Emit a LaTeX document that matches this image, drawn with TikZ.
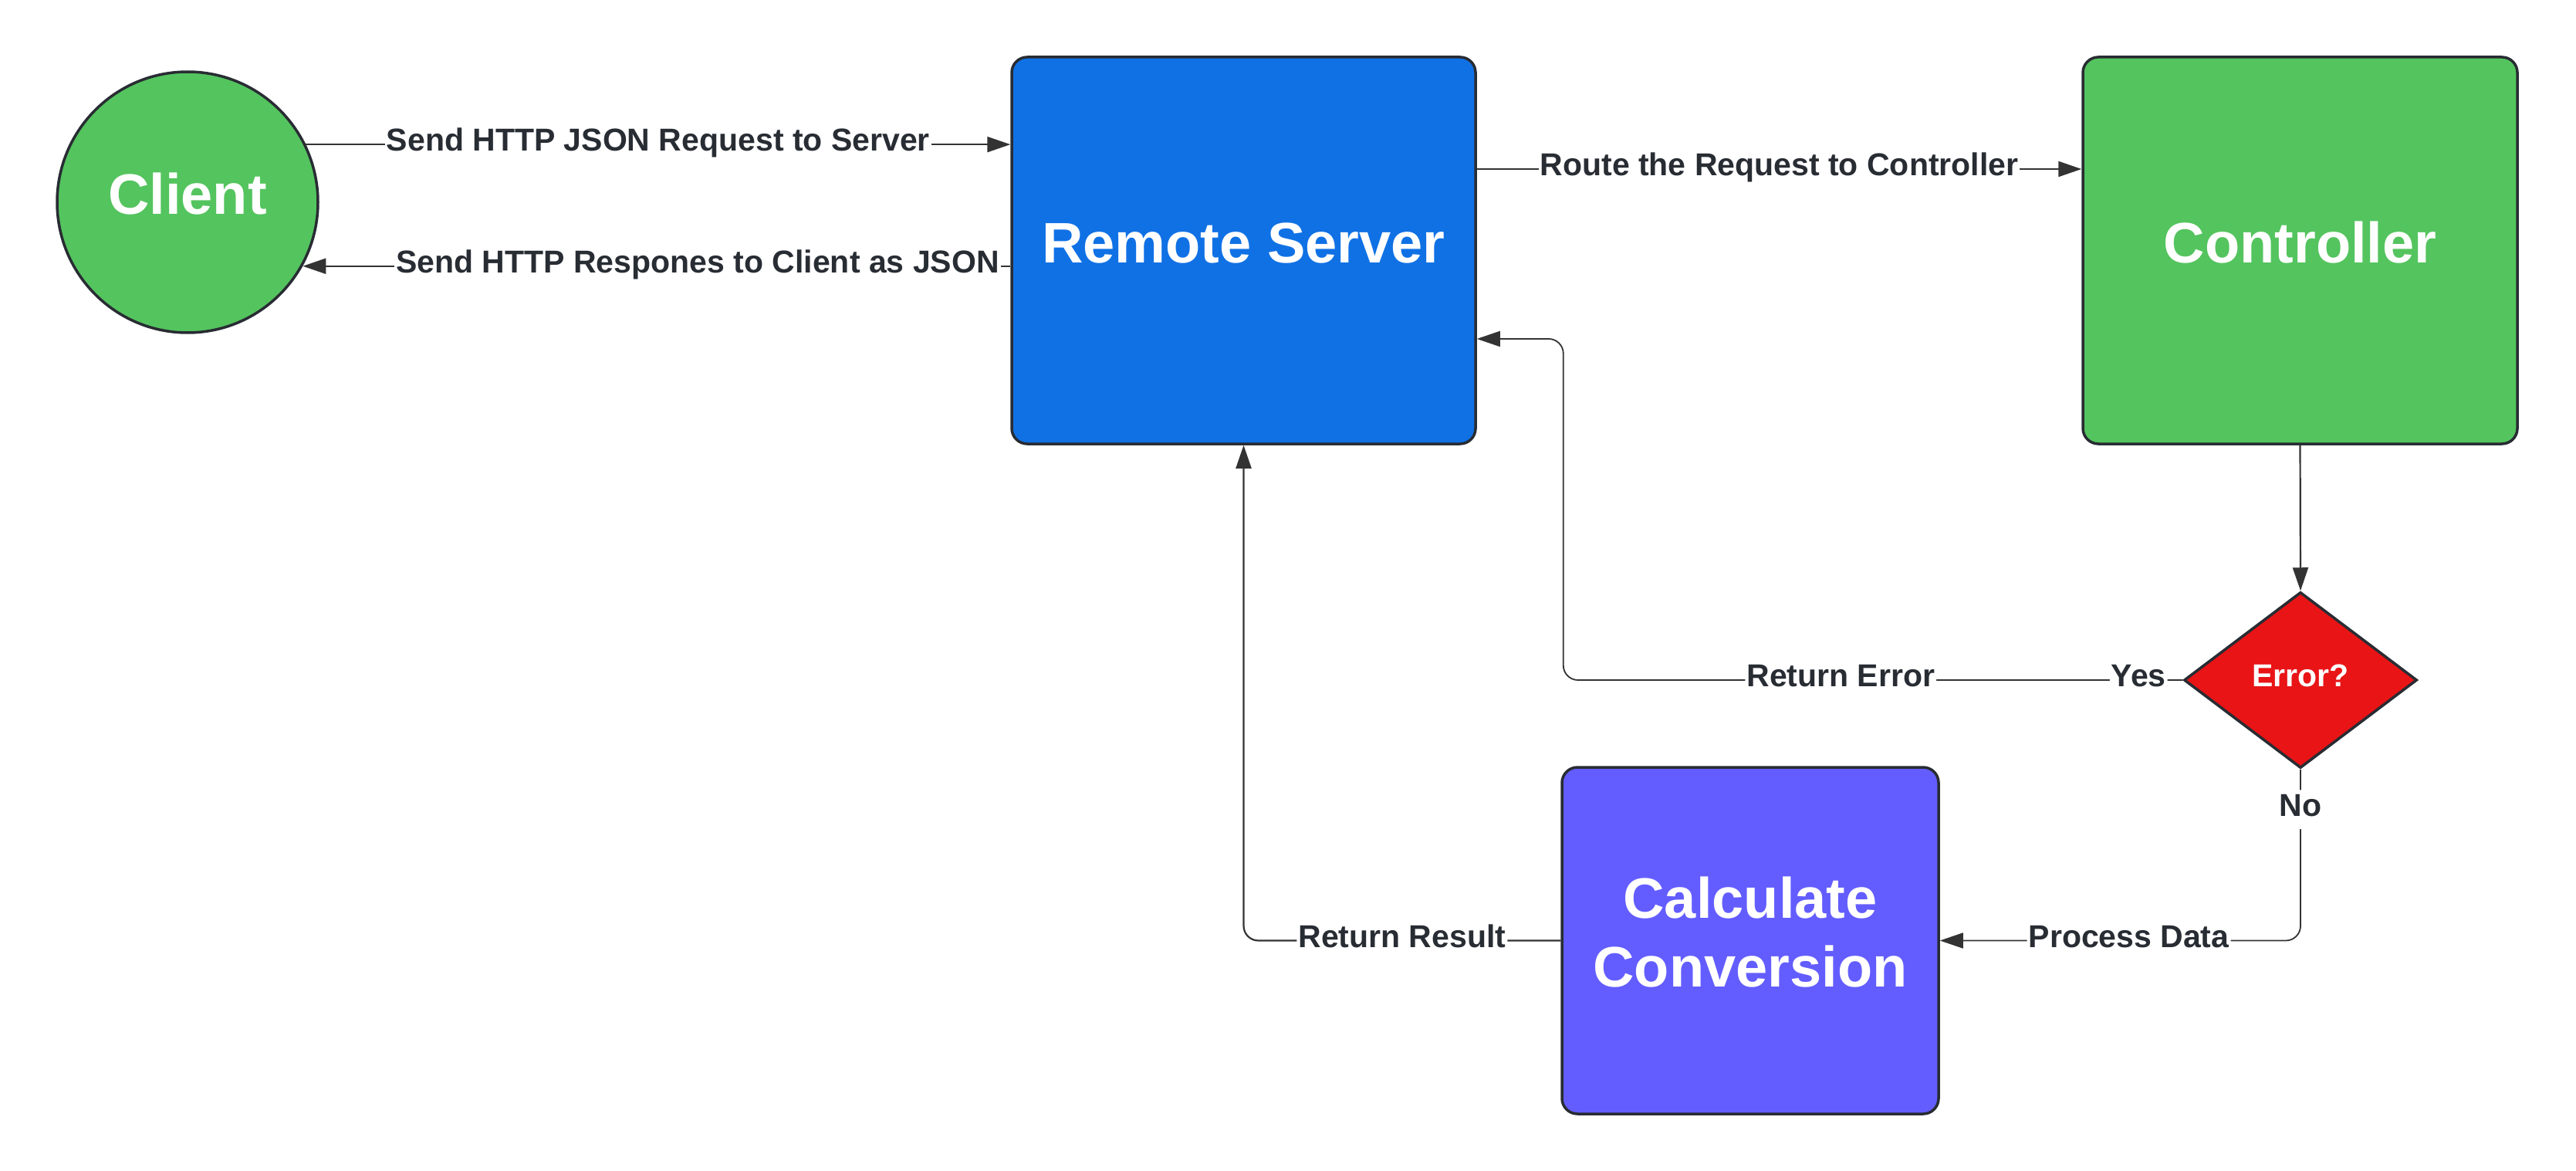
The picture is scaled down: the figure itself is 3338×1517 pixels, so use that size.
\documentclass[tikz,border=0pt]{standalone}
\usepackage{fontspec}
\setmainfont{Liberation Sans}
\usetikzlibrary{shapes.geometric,arrows.meta}
\definecolor{cgreen}{HTML}{54C45E}
\definecolor{cblue}{HTML}{1071E5}
\definecolor{cred}{HTML}{E81416}
\definecolor{cpurple}{HTML}{635DFF}
\definecolor{cborder}{HTML}{282C33}
\definecolor{cline}{HTML}{333333}
\definecolor{ctext}{HTML}{282C33}
\begin{document}
\begin{tikzpicture}[x=1pt,y=-1pt,
  shapebase/.style={draw=cborder, line width=3.5pt, text=white, inner sep=0pt},
  bigtext/.style={font=\bfseries\fontsize{74}{89}\selectfont},
  box/.style={shapebase, bigtext, rounded corners=20pt, align=center},
  oneline/.style={text height=53.3pt, text depth=22.2pt},
  smalltext/.style={font=\bfseries\fontsize{41}{49}\selectfont, text height=29.5pt, text depth=12.3pt},
  lbl/.style={smalltext, fill=white, text=ctext, inner xsep=2pt, inner ysep=4.5pt},
  conn/.style={draw=cline, line width=2.2pt, -{Triangle[length=30pt,width=20pt]}},
  ]
\useasboundingbox (0,0) rectangle (3338,1517);
\node[shapebase, bigtext, oneline, circle, fill=cgreen, minimum size=338pt] (client) at (243,262) {Client};
\node[box, oneline, fill=cblue, minimum width=601pt, minimum height=501pt] (server) at (1611.5,324.5) {Remote Server};
\node[box, oneline, fill=cgreen, minimum width=563pt, minimum height=501pt] (controller) at (2980.5,324.5) {Controller};
\node[shapebase, smalltext, diamond, fill=cred, minimum width=302pt, minimum height=228pt] (decision) at (2981,881) {Error?};
\node[box, fill=cpurple, minimum width=488pt, minimum height=449pt] (calc) at (2268,1218.5) {Calculate\\Conversion\rule[-22pt]{0pt}{22pt}};

\draw[conn] (client.26.7) -- node[lbl]{Send HTTP JSON Request to Server} (client.26.7 -| server.west);
\draw[conn] (server.west |- client.-29) -- node[lbl,pos=0.442]{Send HTTP Respones to Client as JSON} (client.-29);
\draw[conn] ([yshift=105.5pt]server.east) -- node[lbl]{Route the Request to Controller} ([yshift=105.5pt]controller.west);
\draw[conn] (controller.south) -- (decision.north);
\coordinate (errA) at ([yshift=-114.5pt]server.east);
\coordinate (errB) at ([xshift=112pt]errA);
\draw[conn, line width=1.8pt, rounded corners=19pt] (decision.west) -- node[lbl,pos=0.071]{Yes} node[lbl,pos=0.552]{Return Error} (decision.west -| errB) -- (errB) -- (errA);
\draw[conn, line width=1.8pt, rounded corners=19pt] (decision.south) |- node[lbl,pos=0.117]{No} node[lbl,pos=0.738]{Process Data} (calc.east);
\draw[conn, rounded corners=19pt] (calc.west) -| node[lbl,pos=0.25]{Return Result} (server.south);
\end{tikzpicture}
\end{document}
